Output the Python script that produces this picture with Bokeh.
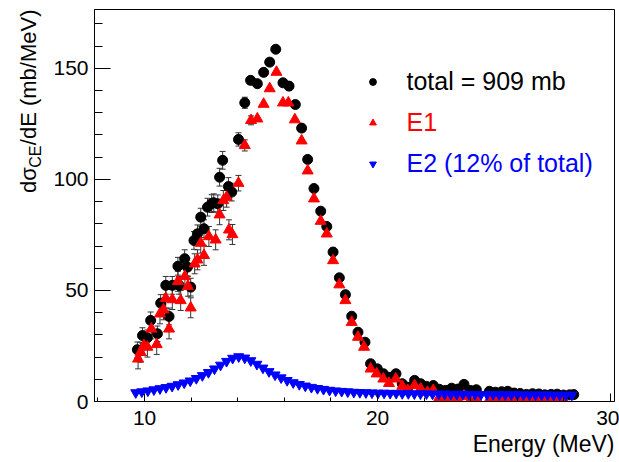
from bokeh.plotting import figure
from bokeh.models import (Range1d, ColumnDataSource, Whisker, TeeHead, Title,
                          Legend, LegendItem, SingleIntervalTicker)
from bokeh.embed import file_html
from bokeh.resources import INLINE

# ---------------- data ----------------
total_x = [9.69, 9.91, 10.12, 10.26, 10.55, 10.69, 10.91, 11.05, 11.19, 11.43,
           11.48, 11.72, 11.84, 11.98, 12.12, 12.27, 12.41, 12.55, 12.70, 12.88,
           12.97, 13.14, 13.22, 13.35, 13.60, 13.74, 14.03, 14.30, 14.55, 14.84,
           15.11, 15.37, 15.63, 15.94, 16.20, 16.47, 16.74, 17.00, 17.27, 17.56,
           17.82, 18.09, 18.36, 18.62, 18.89, 19.16, 19.46, 19.70, 19.99, 20.25,
           20.53, 20.79, 21.06, 21.30, 21.59, 21.85, 22.10, 22.39, 22.65, 22.92,
           23.18, 23.45, 23.71, 23.98, 24.24, 24.80, 25.06, 25.33, 25.59, 25.86,
           26.12, 26.39, 26.65, 26.92, 27.18, 27.45, 27.71, 27.98, 28.24, 28.42]
total_y = [23.3, 29.7, 28.7, 36.5, 30.5, 44.3, 52.3, 38.3, 52.3, 60.9,
           52.3, 64.3, 60.5, 51.5, 72.5, 75.5, 83.0, 77.8, 87.5, 89.1,
           89.5, 89.0, 101.0, 108.6, 96.8, 94.3, 118.0, 134.5, 144.6, 143.1,
           148.2, 152.8, 158.6, 143.5, 142.0, 133.7, 123.1, 109.0, 95.9, 85.7,
           78.8, 67.3, 55.7, 48.1, 38.4, 31.2, 26.7, 17.0, 14.7, 12.5,
           10.9, 12.5, 8.0, 6.4, 9.5, 8.0, 6.8, 7.2, 5.5, 5.0,
           6.0, 5.6, 7.7, 5.0, 5.3, 4.6, 4.2, 4.4, 4.6, 3.8,
           3.6, 3.2, 3.5, 3.4, 3.0, 3.2, 3.3, 2.9, 3.0, 3.1]
total_err = [3.5, 3.5, 3.5, 3.8, 3.5, 3.8, 4.0, 3.8, 4.0, 4.0,
             4.0, 4.0, 4.0, 4.0, 4.0, 4.0, 4.0, 4.0, 4.0, 4.0,
             4.0, 4.0, 4.0, 4.0, 4.0, 4.0, 3.0, 2.5]

e1_x = [9.72, 9.83, 9.97, 10.12, 10.29, 10.52, 10.66, 10.81, 10.91, 11.05,
        11.19, 11.43, 11.55, 11.73, 11.86, 11.98, 12.15, 12.27, 12.41, 12.55,
        12.76, 13.05, 13.22, 13.38, 13.52, 13.62, 13.77, 14.03, 14.30, 14.57,
        14.84, 15.11, 15.37, 15.66, 15.94, 16.17, 16.45, 16.74, 17.00, 17.27,
        17.56, 17.82, 18.09, 18.36, 18.62, 18.89, 19.16, 19.42, 19.70, 19.96,
        20.25, 20.49, 20.78, 21.06, 21.30, 21.59, 21.85, 22.14, 22.39, 22.65,
        22.92, 23.18, 23.45, 23.71, 23.98, 24.24, 24.80, 25.06, 25.33, 25.59,
        25.86, 26.12, 26.39, 26.65, 26.92, 27.18, 27.45, 27.71, 27.98]
e1_y = [19.2, 22.2, 25.2, 24.5, 32.7, 25.7, 39.5, 41.3, 46.5, 32.7,
        45.9, 54.1, 45.5, 56.3, 51.9, 42.2, 62.0, 63.8, 71.3, 65.8,
        74.3, 72.8, 84.1, 90.5, 92.0, 77.3, 75.2, 98.3, 115.3, 126.6,
        127.3, 133.9, 140.9, 148.3, 134.5, 134.5, 126.9, 117.4, 103.9, 91.3,
        81.2, 75.5, 63.5, 52.6, 45.5, 35.7, 29.0, 24.5, 14.7, 12.5,
        10.2, 8.2, 10.2, 6.9, 5.0, 7.2, 5.7, 4.2, 5.0, 1.9,
        1.2, 1.8, 1.0, 2.2, 0.4, 1.5, 1.0, 0.6, 0.8, 1.3,
        0.3, 0.9, 1.2, 0.2, 0.5, 1.0, 0.3, 0.4, 0.8]
e1_err = [4.5, 4.5, 4.5, 4.5, 4.5, 4.5, 4.5, 4.5, 4.5, 4.5,
          4.5, 4.5, 4.5, 4.5, 4.5, 4.5, 4.5, 4.5, 4.5, 4.5,
          4.5, 4.5, 4.5, 4.5, 4.5, 4.5, 4.5, 3.5, 2.5, 2.0]

e2_x = [9.62, 9.88, 10.14, 10.40, 10.66, 10.92, 11.18, 11.44, 11.70, 11.96,
        12.22, 12.48, 12.74, 13.00, 13.26, 13.52, 13.78, 14.04, 14.30, 14.56,
        14.82, 15.08, 15.34, 15.60, 15.86, 16.12, 16.38, 16.64, 16.90, 17.16,
        17.42, 17.68, 17.94, 18.20, 18.46, 18.72, 18.98, 19.24, 19.50, 19.76,
        20.02, 20.28, 20.54, 20.80, 21.06, 21.32, 21.58, 21.84, 22.10, 22.36,
        22.62, 22.88, 23.14, 23.40, 23.66, 23.92, 24.18, 24.44, 24.70, 24.96,
        25.22, 25.48, 25.74, 26.00, 26.26, 26.52, 26.78, 27.04, 27.30, 27.56,
        27.82, 28.08, 28.34]
e2_y = [4.0, 4.4, 4.8, 5.3, 5.8, 6.3, 6.9, 7.6, 8.4, 9.3,
        10.4, 11.7, 13.1, 14.7, 16.4, 18.1, 19.5, 20.2, 19.6, 18.4,
        16.8, 15.1, 13.5, 12.0, 10.7, 9.5, 8.5, 7.7, 7.0, 6.4,
        5.9, 5.5, 5.1, 4.8, 4.6, 4.4, 4.2, 4.1, 4.0, 3.9,
        3.8, 3.8, 3.7, 3.7, 3.6, 3.6, 3.5, 3.5, 3.5, 3.4,
        3.4, 3.4, 3.3, 3.3, 3.3, 3.3, 3.2, 3.2, 3.2, 3.2,
        3.1, 3.1, 3.1, 3.1, 3.0, 3.0, 3.0, 3.0, 3.0, 2.9,
        2.9, 2.9, 2.9]

x_ticks_interval = 10
y_ticks_interval = 50
legend_labels = ["total = 909 mb", "E1", "E2 (12% of total)"]
x_title = "Energy (MeV)"
y_title_main = "d\u03c3\u2002\u2002/dE (mb/MeV)"
y_title_sub = "CE"

X0, X1 = 7.85, 30.17
Y0, Y1 = 0.0, 176.5
FONT = "Liberation Sans"

p = figure(width=619, height=462, output_backend="svg", toolbar_location=None,
           x_range=Range1d(X0, X1), y_range=Range1d(Y0, Y1),
           min_border_left=94, min_border_right=5, min_border_top=9,
           min_border_bottom=61)
p.xgrid.visible = False
p.ygrid.visible = False
p.outline_line_color = "black"
p.outline_line_width = 1
p.background_fill_color = "white"
p.border_fill_color = "white"

p.xaxis.ticker = SingleIntervalTicker(interval=x_ticks_interval, num_minor_ticks=5)
p.yaxis.ticker = SingleIntervalTicker(interval=y_ticks_interval, num_minor_ticks=5)
for ax in (p.xaxis[0], p.yaxis[0]):
    ax.axis_line_color = "black"
    ax.major_tick_line_color = "black"
    ax.minor_tick_line_color = "black"
    ax.major_tick_out = 0
    ax.minor_tick_out = 0
    ax.major_label_text_font = FONT
    ax.major_label_text_font_size = "21px"
    ax.major_label_text_color = "black"
p.xaxis.major_tick_in = 8
p.xaxis.minor_tick_in = 4
p.xaxis.major_label_standoff = 9
p.yaxis.major_tick_in = 16
p.yaxis.minor_tick_in = 8
p.yaxis.major_label_standoff = 6

# error bars
def err_source(xs, ys, errs):
    n = len(errs)
    return ColumnDataSource(dict(x=xs[:n],
                                 upper=[ys[i] + errs[i] for i in range(n)],
                                 lower=[ys[i] - errs[i] for i in range(n)]))

for xs, ys, es in ((total_x, total_y, total_err), (e1_x, e1_y, e1_err)):
    w = Whisker(source=err_source(xs, ys, es), base="x", upper="upper", lower="lower",
                dimension="height", line_color="#333333", line_width=1, level="underlay",
                upper_head=TeeHead(size=6, line_color="#333333", line_width=1),
                lower_head=TeeHead(size=6, line_color="#333333", line_width=1))
    p.add_layout(w)

r_tot = p.scatter(total_x, total_y, marker="circle", size=10,
                  fill_color="black", line_color="black")
r_e1 = p.scatter(e1_x, e1_y, marker="triangle", size=11,
                 fill_color="#ff0000", line_color="#ff0000")
r_e2 = p.scatter(e2_x, e2_y, marker="inverted_triangle", size=10,
                 fill_color="#0000ff", line_color="#0000ff")

# legends (one per entry so each label gets its own colour)
leg_specs = [(r_tot, legend_labels[0], "black", 305),
             (r_e1, legend_labels[1], "#ff0000", 264),
             (r_e2, legend_labels[2], "#0000ff", 223)]
for r, lab, col, ly in leg_specs:
    leg = Legend(items=[LegendItem(label=lab, renderers=[r])], location=(269.5, ly),
                 background_fill_alpha=0, border_line_alpha=0, padding=0, margin=0,
                 glyph_width=17, glyph_height=17, label_standoff=26,
                 label_text_font=FONT, label_text_font_size="25px",
                 label_text_color=col)
    p.add_layout(leg)

# axis titles (ROOT style: right / top aligned)
p.add_layout(Title(text=x_title, align="right", vertical_align="top", standoff=7,
                   text_font=FONT, text_font_size="23px", text_font_style="normal",
                   text_color="black"), "below")
p.add_layout(Title(text=y_title_sub, align="right", vertical_align="bottom",
                   offset=136, standoff=13, text_font=FONT, text_font_size="16px",
                   text_font_style="normal", text_color="black"), "left")
p.add_layout(Title(text=y_title_main, align="right", vertical_align="bottom",
                   offset=0, standoff=-44, text_font=FONT, text_font_size="22px",
                   text_font_style="normal", text_color="black"), "left")

open("out.html", "w").write(file_html(p, INLINE))
